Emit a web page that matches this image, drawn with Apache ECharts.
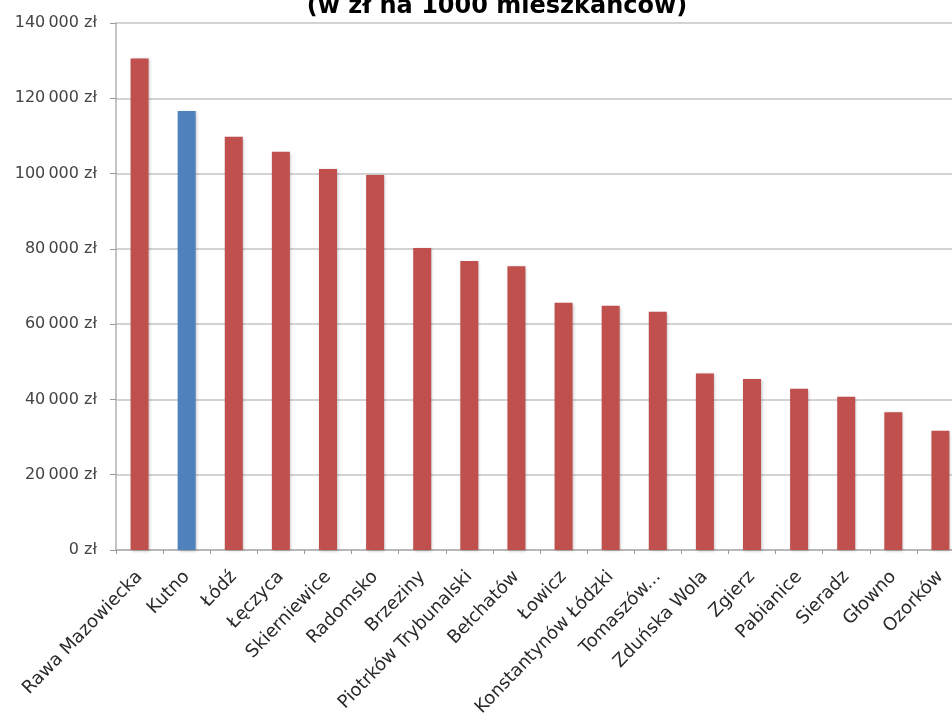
<!DOCTYPE html>
<html>
<head>
<meta charset="utf-8">
<script src="https://cdn.jsdelivr.net/npm/echarts@6/dist/echarts.min.js"></script>
<style>html,body{margin:0;padding:0;background:#fff;}#c{width:952px;height:720px;}</style>
</head>
<body>
<div id="c"></div>
<script>
const titleText = "(w zł na 1000 mieszkańców)";
const categories = ["Rawa Mazowiecka","Kutno","Łódź","Łęczyca","Skierniewice","Radomsko","Brzeziny","Piotrków Trybunalski","Bełchatów","Łowicz","Konstantynów Łódzki","Tomaszów...","Zduńska Wola","Zgierz","Pabianice","Sieradz","Głowno","Ozorków"];
const values = [130600,116600,109800,105800,101200,99600,80200,76800,75400,65700,64900,63300,46900,45400,42850,40700,36600,31700];
const highlighted = "Kutno";
const yMin = 0, yMax = 140000, yInterval = 20000;

const RED = "#C0504D", BLUE = "#4F81BD";
const chart = echarts.init(document.getElementById('c'), null, {renderer:'canvas'});
function fmt(v){ return String(v).replace(/\B(?=(\d{3})+(?!\d))/g, "\u2009") + " zł"; }
chart.setOption({
  animation:false,
  backgroundColor:'#fff',
  title:{text:titleText,left:492,textAlign:'center',top:-10,textStyle:{fontFamily:'DejaVu Sans',fontWeight:'bold',fontSize:24,color:'#000'}},
  grid:{left:116,top:23,width:848,height:527,containLabel:false,outerBoundsMode:'none'},
  xAxis:{type:'category',data:categories,
    axisLine:{lineStyle:{color:'#b0b0b0',width:1.5}},
    axisTick:{show:true,length:4,lineStyle:{color:'#999'}},
    axisLabel:{rotate:46,interval:0,margin:24,fontFamily:'DejaVu Sans',fontSize:18,color:'#2a2a2a'}},
  yAxis:{type:'value',min:yMin,max:yMax,interval:yInterval,
    axisLine:{show:true,lineStyle:{color:'#b0b0b0',width:1.5}},
    axisTick:{show:true,length:6,lineStyle:{color:'#999'}},
    splitLine:{lineStyle:{color:'#c4c4c4',width:1.5}},
    axisLabel:{formatter:fmt,margin:19,fontFamily:'DejaVu Sans',fontSize:16,color:'#444'}},
  series:[{type:'bar',barWidth:18,
    data:values.map((v,i)=>({value:v,itemStyle:{color: categories[i]===highlighted?BLUE:RED}})),
    itemStyle:{shadowColor:'rgba(0,0,0,0.25)',shadowBlur:3,shadowOffsetX:1,shadowOffsetY:1}}]
});
</script>
</body>
</html>
